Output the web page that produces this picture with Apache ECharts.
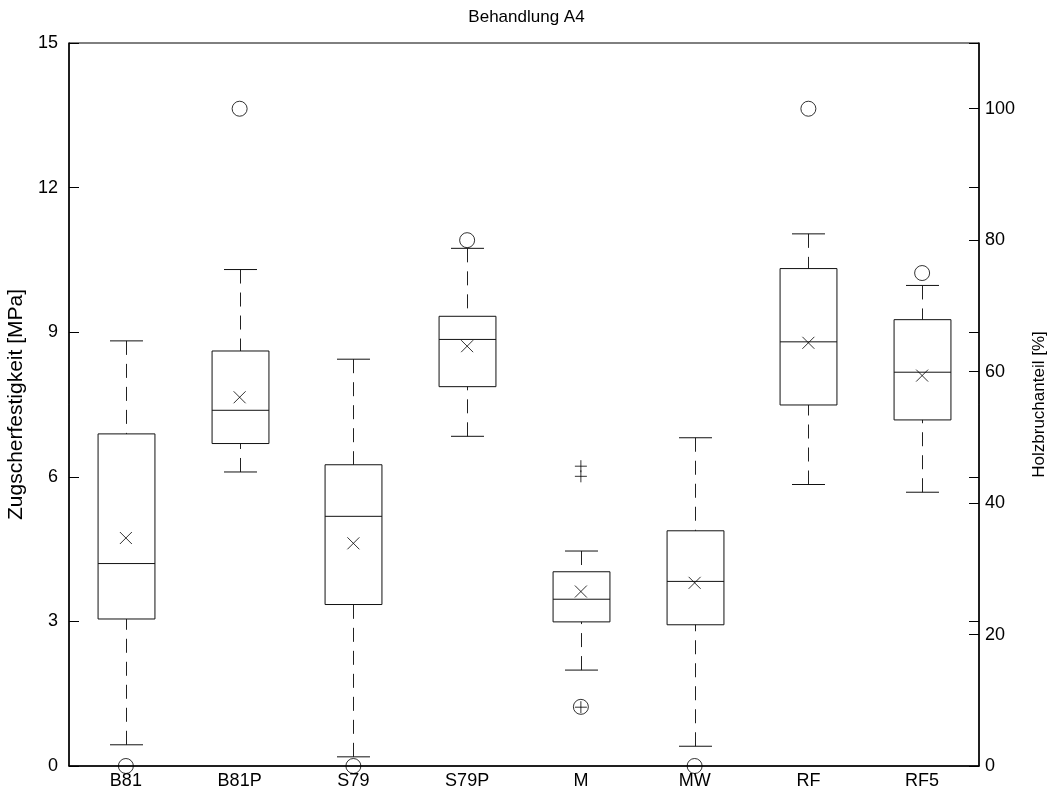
<!DOCTYPE html>
<html>
<head>
<meta charset="utf-8">
<script src="https://cdn.jsdelivr.net/npm/echarts@6/dist/echarts.min.js"></script>
<style>html,body{margin:0;padding:0;background:#fff}#c{width:1053px;height:797px}</style>
</head>
<body>
<div id="c"></div>
<script>
// ---- data ----
const categories = ['B81', 'B81P', 'S79', 'S79P', 'M', 'MW', 'RF', 'RF5'];
const whiskerLow  = [0.44, 6.10, 0.19, 6.84, 1.99, 0.41, 5.84, 5.68];
const quartile1   = [3.05, 6.69, 3.35, 7.87, 2.99, 2.93, 7.49, 7.18];
const median      = [4.20, 7.38, 5.18, 8.85, 3.46, 3.83, 8.80, 8.17];
const quartile3   = [6.89, 8.61, 6.25, 9.33, 4.03, 4.88, 10.32, 9.26];
const whiskerHigh = [8.82, 10.30, 8.44, 10.74, 4.46, 6.81, 11.04, 9.97];
const means       = [4.73, 7.65, 4.62, 8.71, 3.62, 3.80, 8.78, 8.10];
// outliers: [category index, MPa]
const outliers = [[4, 6.22], [4, 6.01], [4, 1.22]];
// Holzbruchanteil (%), right axis
const holzbruch = [0, 100, 0, 80, 9, 0, 100, 75];
const leftTicks = { min: 0, max: 15, interval: 3 };
const rightTicks = { min: 0, max: 110, interval: 20 };

const FONT = 'Liberation Sans';
const boxData = categories.map((c, i) => [i, whiskerLow[i], quartile1[i], median[i], quartile3[i], whiskerHigh[i]]);
const meanData = means.map((v, i) => [i, v]);
const holzData = holzbruch.map((v, i) => [i, v]);

const chart = echarts.init(document.getElementById('c'), null, { renderer: 'canvas' });
const lineStyleBase = { stroke: '#111', lineWidth: 1 };

chart.setOption({
  animation: false,
  backgroundColor: '#fff',
  title: {
    text: 'Behandlung A4', left: 'center', top: 4,
    textStyle: { fontFamily: FONT, fontSize: 17, fontWeight: 'normal', color: '#000' }
  },
  grid: { left: 69, right: 74, top: 43, bottom: 31, outerBoundsMode: 'none', containLabel: false,
    show: true, borderColor: '#000', borderWidth: 1, backgroundColor: 'transparent' },
  xAxis: {
    type: 'category', data: categories, boundaryGap: true,
    axisLine: { lineStyle: { color: '#000', width: 1.5 } },
    axisTick: { inside: true, alignWithLabel: true, length: 9, lineStyle: { color: '#000' } },
    axisLabel: { fontFamily: FONT, fontSize: 18, color: '#000', margin: 6 },
    splitLine: { show: false }
  },
  yAxis: [
    {
      type: 'value', position: 'left', min: leftTicks.min, max: leftTicks.max, interval: leftTicks.interval,
      name: 'Zugscherfestigkeit [MPa]', nameLocation: 'middle', nameGap: 40, nameRotate: 90,
      nameTextStyle: { fontFamily: FONT, fontSize: 21, color: '#000' },
      axisLine: { show: true, lineStyle: { color: '#000', width: 1.5 } },
      axisTick: { show: true, inside: true, length: 10, lineStyle: { color: '#000' } },
      axisLabel: { fontFamily: FONT, fontSize: 18, color: '#000', margin: 11 },
      splitLine: { show: false }
    },
    {
      type: 'value', position: 'right', min: rightTicks.min, max: rightTicks.max, interval: rightTicks.interval,
      name: 'Holzbruchanteil [%]', nameLocation: 'middle', nameGap: 52, nameRotate: 90,
      nameTextStyle: { fontFamily: FONT, fontSize: 17, color: '#000' },
      axisLine: { show: true, lineStyle: { color: '#000', width: 1.5 } },
      axisTick: { show: true, inside: true, length: 10, lineStyle: { color: '#000' } },
      axisLabel: { fontFamily: FONT, fontSize: 18, color: '#000', margin: 6,
        formatter: v => (v > 100 ? '' : String(v)) },
      splitLine: { show: false }
    },
    {
      type: 'value', position: 'right', min: leftTicks.min, max: leftTicks.max, interval: leftTicks.interval,
      axisLine: { show: false },
      axisTick: { show: true, inside: true, length: 10, lineStyle: { color: '#000' } },
      axisLabel: { show: false },
      splitLine: { show: false }
    }
  ],
  series: [
    {
      type: 'custom', xAxisIndex: 0, yAxisIndex: 0,
      encode: { x: 0, y: [1, 2, 3, 4, 5] },
      data: boxData,
      clip: false,
      renderItem: function (params, api) {
        const i = api.value(0);
        const band = api.size([1, 0])[0];
        const bw = band * 0.25, cw = band * 0.145;
        const pLow = api.coord([i, api.value(1)]);
        const pQ1 = api.coord([i, api.value(2)]);
        const pMed = api.coord([i, api.value(3)]);
        const pQ3 = api.coord([i, api.value(4)]);
        const pHigh = api.coord([i, api.value(5)]);
        const cx = Math.round(pLow[0]) + 0.5;
        const dash = { stroke: '#222', lineWidth: 1, lineDash: [14, 9] };
        return {
          type: 'group',
          children: [
            { type: 'line', shape: { x1: cx, y1: pHigh[1], x2: cx, y2: pQ3[1] }, style: dash },
            { type: 'line', shape: { x1: cx, y1: pLow[1], x2: cx, y2: pQ1[1] }, style: dash },
            { type: 'line', shape: { x1: cx - cw, y1: pHigh[1], x2: cx + cw, y2: pHigh[1] }, style: lineStyleBase },
            { type: 'line', shape: { x1: cx - cw, y1: pLow[1], x2: cx + cw, y2: pLow[1] }, style: lineStyleBase },
            { type: 'rect', shape: { x: cx - bw, y: pQ3[1], width: 2 * bw, height: pQ1[1] - pQ3[1] },
              style: { fill: 'none', stroke: '#111', lineWidth: 1 } },
            { type: 'line', shape: { x1: cx - bw, y1: pMed[1], x2: cx + bw, y2: pMed[1] }, style: lineStyleBase }
          ]
        };
      }
    },
    {
      type: 'scatter', xAxisIndex: 0, yAxisIndex: 0, data: meanData, clip: false,
      symbol: 'path://M0,0L12,12M12,0L0,12', symbolSize: 12,
      itemStyle: { color: 'none', borderColor: '#000', borderWidth: 1 }
    },
    {
      type: 'scatter', xAxisIndex: 0, yAxisIndex: 0, data: outliers, clip: false,
      symbol: 'path://M6,0L6,12M0,6L12,6', symbolSize: 12,
      itemStyle: { color: 'none', borderColor: '#000', borderWidth: 1 }
    },
    {
      type: 'scatter', xAxisIndex: 0, yAxisIndex: 1, data: holzData, clip: false,
      symbol: 'circle', symbolSize: 15,
      itemStyle: { color: 'rgba(0,0,0,0)', borderColor: '#000', borderWidth: 1 }
    }
  ]
});
</script>
</body>
</html>
